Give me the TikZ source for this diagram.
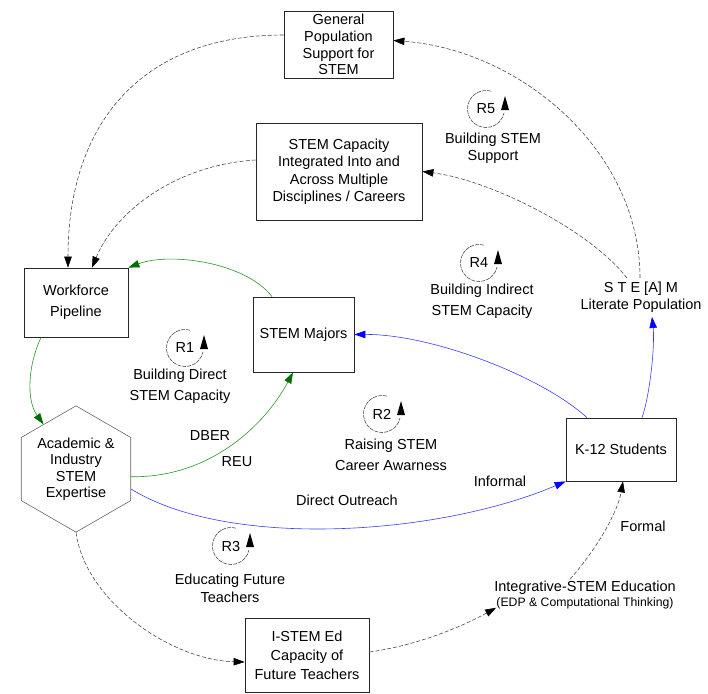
\documentclass[tikz,border=0pt]{standalone}
\usepackage{fontspec}
\setmainfont{Liberation Sans}
\usetikzlibrary{arrows.meta,shapes.geometric}
\begin{document}
\begin{tikzpicture}[x=1pt,y=-1pt,
  every node/.style={font=\fontsize{14.5}{17}\selectfont, align=center, inner sep=0pt},
  box/.style={draw=black!85, line width=0.8pt, fill=white},
  hexa/.style={regular polygon, regular polygon sides=6, shape border rotate=30,
    draw=black!60, line width=0.6pt, minimum size=120pt, inner sep=0pt},
  dsh/.style={draw=black!75, line width=0.55pt, dash pattern=on 4pt off 2pt,
    -{Triangle[length=11pt,width=7.5pt,color=black,fill=black]}},
  grn/.style={draw={rgb,255:red,40;green,150;blue,40}, line width=0.6pt,
    -{Triangle[length=11pt,width=7.5pt,fill={rgb,255:red,0;green,110;blue,0},color={rgb,255:red,0;green,110;blue,0}]}},
  blu/.style={draw={rgb,255:red,60;green,60;blue,255}, line width=0.6pt,
    -{Triangle[length=11pt,width=7.5pt,color=blue,fill=blue]}},
  loopline/.style={draw=black!75, line width=0.55pt, dash pattern=on 4pt off 1pt},
  looptip/.style={fill=black, draw=none}
]
\useasboundingbox (0,0) rectangle (708,693);

% boxes
\node[box, minimum width=109pt, minimum height=67pt] (gen) at (338.5,44.5)
  {General\\[-0.3pt]Population\\[-0.3pt]Support for\\[-0.3pt]STEM};
\node[box, minimum width=166pt, minimum height=97pt] (cap) at (339,171.5)
  {STEM Capacity\\[0.5pt]Integrated Into and\\[0.5pt]Across Multiple\\[0.5pt]Disciplines / Careers};
\node[box, minimum width=104pt, minimum height=69pt] (work) at (76,302.5)
  {Workforce\\[4pt]Pipeline};
\node[box, minimum width=101pt, minimum height=75pt] (majors) at (303.5,334.5) {STEM Majors};
\node[box, minimum width=110pt, minimum height=63pt] (k12) at (621,449.5) {K-12 Students};
\node[box, minimum width=124pt, minimum height=74pt] (istem) at (307,655)
  {I-STEM Ed\\[2pt]Capacity of\\[2pt]Future Teachers};
\node[hexa] (acad) at (76,469) {Academic \&\\[-0.5pt]Industry\\[-0.5pt]STEM\\[-0.5pt]Expertise};

% free labels
\node[inner sep=4pt] (steam) at (641,297.5) {S T E [A] M\\Literate Population};
\node[inner sep=2pt] (integ) at (585,595.5)
  {Integrative-STEM Education\\[-2pt]{\fontsize{12.25}{14}\selectfont (EDP \& Computational Thinking)}};

\node (dber) at (210,436) {DBER};
\node (reu) at (237,462) {REU};
\node (outreach) at (347,500) {Direct Outreach};
\node (informal) at (500,481) {Informal};
\node (formal) at (643,526) {Formal};

% loop markers
\node (r1) at (185,348) {R1};
\node (r1t) at (180,386) {Building Direct\\[4pt]STEM Capacity};
\node (r2) at (382,414) {R2};
\node (r2t) at (391,455) {Raising STEM\\[4pt]Career Awarness};
\node (r3) at (231,546) {R3};
\node (r3t) at (230,588) {Educating Future\\[1pt]Teachers};
\node (r4) at (479,263) {R4};
\node (r4t) at (482,301.5) {Building Indirect\\[4pt]STEM Capacity};
\node (r5) at (486,109) {R5};
\node (r5t) at (493,148.5) {Building STEM\\Support};

\foreach \r in {r1,r2,r3,r4,r5}{
  \draw[loopline] (\r.center) ++(75:18.5pt) arc[start angle=75, end angle=348, radius=18.5pt];
  \fill[looptip] ([xshift=19pt,yshift=13pt]\r.center) -- ([xshift=23pt,yshift=-1pt]\r.center)
     -- ([xshift=15pt,yshift=-1pt]\r.center) -- cycle;
}

% connectors
\draw[dsh] ([yshift=9.5pt]gen.west) .. controls (140,35) and (68,125) .. ([xshift=-8pt]work.north);
\draw[dsh] ([yshift=11.5pt]cap.west) .. controls (175,165) and (115,212) .. ([xshift=16pt]work.north);
\draw[grn] ([xshift=-31.5pt]majors.north) .. controls (245,262) and (170,252) .. (work.north east);
\draw[grn] ([xshift=-35pt]work.south) .. controls (28,365) and (26,400) .. (acad.126);
\draw[grn] (acad.-8) .. controls (210,478) and (265,425) .. ([xshift=-10.5pt]majors.south);
\draw[blu] (acad.-20) .. controls (230,550) and (440,535) .. (k12.south west);
\draw[blu] ([xshift=-34pt]k12.north) .. controls (540,375) and (430,334) .. (majors.east);
\draw[blu] ([xshift=21pt]k12.north) .. controls (650,395) and (655,345) .. ([xshift=11pt]steam.south);
\draw[dsh] ([xshift=-1pt]steam.north) .. controls (640,150) and (520,50) .. ([yshift=4pt]gen.east);
\draw[dsh] ([xshift=-14pt]steam.north) .. controls (590,230) and (490,180) .. (cap.east);
\draw[dsh] (acad.south) .. controls (85,600) and (170,660) .. ([yshift=-7pt]istem.west);
\draw[dsh] ([yshift=3pt]istem.east) .. controls (420,645) and (465,625) .. ([xshift=4pt,yshift=4pt]integ.south west);
\draw[dsh] ([xshift=-15pt]integ.north) .. controls (600,545) and (618,510) .. ([xshift=2pt]k12.south);
\end{tikzpicture}
\end{document}
